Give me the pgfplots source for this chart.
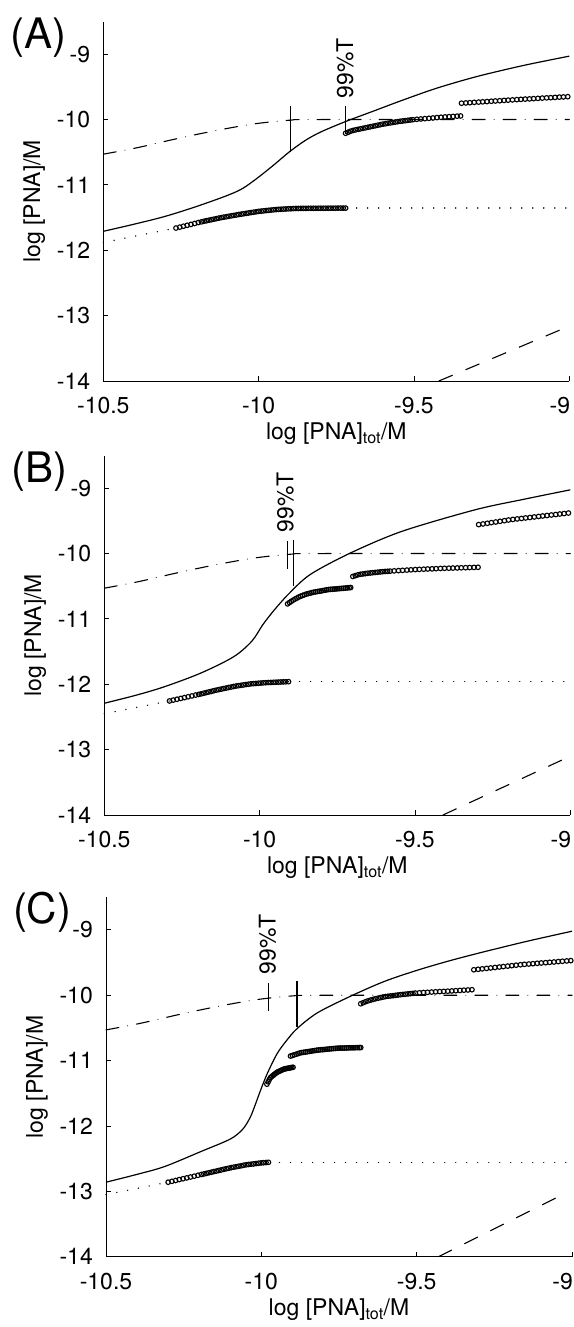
\documentclass[border=0pt]{standalone}
\usepackage{fontspec}
\setmainfont{TeX Gyre Heros}
\usepackage{pgfplots}
\pgfplotsset{compat=1.18}
\newcommand{\lbl}{\fontsize{23}{23}\selectfont}
\newcommand{\plb}{\fontsize{42}{42}\selectfont}
\pgfplotsset{
  panel/.style={
    scale only axis, width=466pt, height=359.5pt,
    xmin=-10.5, xmax=-9, ymin=-14, ymax=-8.5,
    axis x line*=bottom, axis y line*=left,
    xtick={-10.5,-10,-9.5}, ytick={-14,-13,-12,-11,-10,-9},
    extra x ticks={-9},
    extra x tick style={xticklabel style={anchor=north east, xshift=1pt}},
    tick align=inside, major tick length=5pt,
    axis line style={line width=1pt},
    tick style={line width=0.9pt, black},
    /pgf/number format/assume math mode=true,
    ticklabel style={font=\lbl},
    xticklabel style={inner sep=0pt, anchor=north, yshift=-16pt},
    yticklabel style={inner sep=0pt, anchor=east, xshift=-13pt},
    xlabel={\lbl log [PNA]\textsubscript{tot}/M},
    ylabel={\lbl log [PNA]/M},
    xlabel style={at={(axis description cs:0.5,-0.164)}, anchor=base, inner sep=0pt},
    ylabel style={at={(axis description cs:-0.1356,0.5)}, anchor=base, inner sep=0pt},
    clip=false,
  },
  solidc/.style={black, line width=1.2pt, smooth, tension=0.5, no marks},
  dotc/.style={black, line width=1.5pt, dash pattern=on 0.01pt off 11pt, line cap=round, no marks},
  dashdotc/.style={black, line width=1.1pt, dash pattern=on 13pt off 9pt on 0.01pt off 9pt, line cap=round, smooth, no marks},
  dashc/.style={black, line width=1.1pt, dash pattern=on 15pt off 14pt, no marks},
  circ/.style={black, only marks, mark=o, mark size=2.3pt, mark options={line width=1.1pt}},
  vline/.style={black, line width=1.3pt, no marks},
}
\tikzset{
  plabel/.style={anchor=base west, inner sep=0pt},
  tlabel/.style={rotate=90, anchor=west, inner sep=0pt},
}
\begin{document}
\begin{tikzpicture}
\useasboundingbox (0pt,0pt) rectangle (573pt,-1327pt);

% ---------------- Panel A ----------------
\begin{axis}[panel, at={(103.3pt,-381pt)}, anchor=south west]
\addplot[dashdotc] coordinates {(-10.5,-10.53) (-10.39,-10.43) (-10.27,-10.30) (-10.15,-10.18) (-10.02,-10.07) (-9.9,-10.01) (-9.8,-10.0) (-9.0,-10.0)};
\addplot[dashc] coordinates {(-9.42,-14) (-9.0,-13.16)};
\addplot[dotc] coordinates {(-10.5,-11.88) (-10.266,-11.66)};
\addplot[dotc] coordinates {(-9.72,-11.355) (-9.0,-11.355)};
\addplot[solidc] coordinates {(-10.5,-11.71) (-10.4,-11.60) (-10.3,-11.48) (-10.2,-11.33) (-10.1,-11.16) (-10.05,-11.05) (-10.0,-10.88) (-9.95,-10.69) (-9.9,-10.49) (-9.85,-10.32) (-9.8,-10.19) (-9.72,-10.03) (-9.63,-9.87) (-9.546,-9.72) (-9.43,-9.525) (-9.3,-9.345) (-9.15,-9.175) (-9.0,-9.03)};
\addplot[circ] coordinates {
(-10.266,-11.660) (-10.254,-11.646) (-10.242,-11.632) (-10.230,-11.618) (-10.218,-11.604) (-10.206,-11.590) (-10.194,-11.576) (-10.184,-11.565)
(-10.176,-11.556) (-10.168,-11.548) (-10.160,-11.540) (-10.152,-11.532) (-10.144,-11.524) (-10.136,-11.516) (-10.128,-11.508) (-10.120,-11.500)
(-10.112,-11.493) (-10.104,-11.487) (-10.096,-11.480) (-10.088,-11.473) (-10.080,-11.467) (-10.072,-11.460) (-10.064,-11.453) (-10.056,-11.447)
(-10.048,-11.441) (-10.040,-11.435) (-10.032,-11.429) (-10.024,-11.423) (-10.016,-11.417) (-10.008,-11.411) (-10.000,-11.405) (-9.992,-11.401)
(-9.984,-11.397) (-9.976,-11.393) (-9.968,-11.389) (-9.960,-11.385) (-9.952,-11.381) (-9.944,-11.377) (-9.936,-11.374) (-9.928,-11.372)
(-9.920,-11.370) (-9.912,-11.368) (-9.904,-11.366) (-9.896,-11.364) (-9.888,-11.362) (-9.880,-11.360) (-9.872,-11.360) (-9.864,-11.359)
(-9.856,-11.359) (-9.848,-11.359) (-9.840,-11.358) (-9.832,-11.358) (-9.824,-11.358) (-9.816,-11.358) (-9.808,-11.357) (-9.800,-11.357)
(-9.792,-11.357) (-9.784,-11.357) (-9.776,-11.356) (-9.768,-11.356) (-9.760,-11.356) (-9.752,-11.356) (-9.744,-11.355) (-9.736,-11.355)
(-9.728,-11.355) (-9.720,-11.355)};
\addplot[circ] coordinates {
(-9.720,-10.210) (-9.712,-10.194) (-9.704,-10.178) (-9.696,-10.166) (-9.688,-10.158) (-9.680,-10.150) (-9.672,-10.142) (-9.664,-10.134)
(-9.656,-10.126) (-9.648,-10.118) (-9.640,-10.110) (-9.632,-10.102) (-9.624,-10.094) (-9.616,-10.086) (-9.608,-10.078) (-9.600,-10.070)
(-9.592,-10.064) (-9.584,-10.057) (-9.576,-10.051) (-9.568,-10.044) (-9.560,-10.038) (-9.552,-10.032) (-9.544,-10.026) (-9.536,-10.022)
(-9.528,-10.017) (-9.520,-10.012) (-9.512,-10.007) (-9.504,-10.002) (-9.491,-9.996) (-9.478,-9.991) (-9.465,-9.986) (-9.452,-9.981)
(-9.439,-9.976) (-9.426,-9.970) (-9.413,-9.965) (-9.400,-9.960) (-9.387,-9.956) (-9.374,-9.952) (-9.361,-9.948) (-9.350,-9.945)};
\addplot[circ] coordinates {
(-9.347,-9.750) (-9.333,-9.746) (-9.320,-9.742) (-9.306,-9.737) (-9.292,-9.733) (-9.279,-9.729) (-9.265,-9.725) (-9.251,-9.720)
(-9.238,-9.716) (-9.224,-9.712) (-9.210,-9.707) (-9.197,-9.703) (-9.183,-9.699) (-9.169,-9.695) (-9.156,-9.691) (-9.142,-9.687)
(-9.128,-9.684) (-9.115,-9.680) (-9.101,-9.676) (-9.087,-9.672) (-9.073,-9.668) (-9.060,-9.665) (-9.046,-9.661) (-9.032,-9.657)
(-9.019,-9.654) (-9.005,-9.650)};
\addplot[vline] coordinates {(-9.898,-9.795) (-9.898,-10.49)};
\addplot[vline] coordinates {(-9.72,-9.795) (-9.72,-10.22)};
\node[tlabel] at (axis cs:-9.722,-9.68) {\lbl 99\%T};
\node[plabel] at (axis description cs:-0.2,0.926) {\plb (A)};
\end{axis}

% ---------------- Panel B ----------------
\begin{axis}[panel, at={(104.3pt,-815pt)}, anchor=south west]
\addplot[dashdotc] coordinates {(-10.5,-10.53) (-10.39,-10.43) (-10.27,-10.30) (-10.15,-10.18) (-10.02,-10.07) (-9.9,-10.01) (-9.8,-10.0) (-9.0,-10.0)};
\addplot[dashc] coordinates {(-9.41,-14) (-9.0,-13.10)};
\addplot[dotc] coordinates {(-10.5,-12.45) (-10.29,-12.255)};
\addplot[dotc] coordinates {(-9.907,-11.96) (-9.0,-11.96)};
\addplot[solidc] coordinates {(-10.5,-12.29) (-10.4,-12.17) (-10.308,-12.04) (-10.19,-11.83) (-10.084,-11.58) (-10.025,-11.34) (-9.99,-11.09) (-9.954,-10.87) (-9.907,-10.62) (-9.837,-10.32) (-9.707,-9.99) (-9.542,-9.66) (-9.306,-9.33) (-9.15,-9.17) (-9.0,-9.025)};
\addplot[circ] coordinates {
(-10.290,-12.255) (-10.278,-12.242) (-10.266,-12.229) (-10.254,-12.216) (-10.242,-12.204) (-10.230,-12.191) (-10.218,-12.178) (-10.206,-12.165)
(-10.196,-12.155) (-10.188,-12.146) (-10.180,-12.137) (-10.172,-12.127) (-10.164,-12.118) (-10.156,-12.109) (-10.148,-12.099) (-10.140,-12.090)
(-10.132,-12.082) (-10.124,-12.074) (-10.116,-12.066) (-10.108,-12.058) (-10.100,-12.050) (-10.092,-12.042) (-10.084,-12.034) (-10.076,-12.027)
(-10.068,-12.021) (-10.060,-12.016) (-10.052,-12.010) (-10.044,-12.004) (-10.036,-11.999) (-10.028,-11.993) (-10.020,-11.990) (-10.012,-11.987)
(-10.004,-11.984) (-9.996,-11.981) (-9.988,-11.978) (-9.980,-11.975) (-9.972,-11.973) (-9.964,-11.972) (-9.956,-11.970) (-9.948,-11.968)
(-9.940,-11.967) (-9.932,-11.965) (-9.924,-11.963) (-9.916,-11.962) (-9.907,-11.960)};
\addplot[circ] coordinates {
(-9.910,-10.770) (-9.904,-10.750) (-9.898,-10.730) (-9.892,-10.712) (-9.886,-10.696) (-9.880,-10.681) (-9.874,-10.665) (-9.868,-10.653)
(-9.862,-10.642) (-9.856,-10.631) (-9.850,-10.620) (-9.844,-10.613) (-9.838,-10.606) (-9.832,-10.598) (-9.826,-10.591) (-9.820,-10.586)
(-9.814,-10.581) (-9.808,-10.576) (-9.802,-10.572) (-9.796,-10.566) (-9.790,-10.561) (-9.784,-10.555) (-9.778,-10.550) (-9.772,-10.548)
(-9.766,-10.545) (-9.760,-10.543) (-9.754,-10.541) (-9.748,-10.538) (-9.742,-10.536) (-9.736,-10.533) (-9.730,-10.531) (-9.724,-10.528)
(-9.718,-10.525) (-9.712,-10.522) (-9.707,-10.520)};
\addplot[circ] coordinates {
(-9.700,-10.350) (-9.692,-10.338) (-9.684,-10.326) (-9.676,-10.317) (-9.668,-10.312) (-9.660,-10.307) (-9.652,-10.301) (-9.644,-10.297)
(-9.636,-10.293) (-9.628,-10.289) (-9.620,-10.285) (-9.612,-10.281) (-9.604,-10.277) (-9.596,-10.274) (-9.588,-10.272) (-9.580,-10.269)
(-9.567,-10.265) (-9.553,-10.261) (-9.540,-10.257) (-9.526,-10.253) (-9.513,-10.249) (-9.499,-10.245) (-9.486,-10.242) (-9.472,-10.239)
(-9.459,-10.236) (-9.445,-10.234) (-9.432,-10.231) (-9.418,-10.228) (-9.405,-10.226) (-9.391,-10.224) (-9.378,-10.222) (-9.364,-10.220)
(-9.351,-10.218) (-9.337,-10.216) (-9.324,-10.214) (-9.310,-10.212) (-9.297,-10.210)};
\addplot[circ] coordinates {
(-9.295,-9.557) (-9.281,-9.547) (-9.267,-9.537) (-9.254,-9.527) (-9.240,-9.517) (-9.226,-9.507) (-9.212,-9.497) (-9.199,-9.487)
(-9.185,-9.478) (-9.171,-9.470) (-9.157,-9.463) (-9.144,-9.455) (-9.130,-9.448) (-9.116,-9.440) (-9.102,-9.432) (-9.089,-9.425)
(-9.075,-9.418) (-9.061,-9.410) (-9.047,-9.403) (-9.034,-9.395) (-9.020,-9.388) (-9.006,-9.380)};
\addplot[vline] coordinates {(-9.892,-9.80) (-9.892,-10.50)};
\addplot[vline] coordinates {(-9.910,-9.81) (-9.910,-10.24)};
\node[tlabel] at (axis cs:-9.918,-9.68) {\lbl 99\%T};
\node[plabel] at (axis description cs:-0.2,0.926) {\plb (B)};
\end{axis}

% ---------------- Panel C ----------------
\begin{axis}[panel, at={(106pt,-1256.7pt)}, anchor=south west]
\addplot[dashdotc] coordinates {(-10.5,-10.53) (-10.39,-10.43) (-10.27,-10.30) (-10.15,-10.18) (-10.02,-10.07) (-9.9,-10.01) (-9.8,-10.0) (-9.0,-10.0)};
\addplot[dashc] coordinates {(-9.43,-14) (-9.03,-13.05)};
\addplot[dotc] coordinates {(-10.5,-13.05) (-10.30,-12.86)};
\addplot[dotc] coordinates {(-9.977,-12.555) (-9.0,-12.555)};
\addplot[solidc] coordinates {(-10.5,-12.86) (-10.4,-12.74) (-10.311,-12.62) (-10.194,-12.39) (-10.10,-12.20) (-10.06,-12.05) (-10.036,-11.87) (-10.02,-11.68) (-10.003,-11.46) (-9.982,-11.21) (-9.95,-10.90) (-9.92,-10.70) (-9.885,-10.51) (-9.82,-10.27) (-9.713,-10.015) (-9.605,-9.79) (-9.50,-9.62) (-9.40,-9.48) (-9.30,-9.355) (-9.15,-9.18) (-9.0,-9.02)};
\addplot[circ] coordinates {
(-10.300,-12.860) (-10.288,-12.847) (-10.276,-12.834) (-10.264,-12.820) (-10.252,-12.807) (-10.240,-12.794) (-10.228,-12.781) (-10.216,-12.768)
(-10.204,-12.754) (-10.193,-12.742) (-10.185,-12.734) (-10.177,-12.725) (-10.169,-12.716) (-10.161,-12.707) (-10.153,-12.698) (-10.145,-12.690)
(-10.137,-12.681) (-10.129,-12.672) (-10.121,-12.663) (-10.113,-12.654) (-10.105,-12.646) (-10.097,-12.637) (-10.089,-12.630) (-10.081,-12.623)
(-10.073,-12.616) (-10.065,-12.609) (-10.057,-12.601) (-10.049,-12.594) (-10.041,-12.589) (-10.033,-12.584) (-10.025,-12.580) (-10.017,-12.575)
(-10.009,-12.570) (-10.001,-12.565) (-9.993,-12.562) (-9.985,-12.559) (-9.977,-12.556)};
\addplot[circ] coordinates {
(-9.982,-11.360) (-9.978,-11.324) (-9.974,-11.287) (-9.970,-11.256) (-9.966,-11.241) (-9.962,-11.226) (-9.958,-11.210) (-9.954,-11.195)
(-9.950,-11.180) (-9.946,-11.171) (-9.942,-11.162) (-9.938,-11.153) (-9.934,-11.144) (-9.930,-11.135) (-9.926,-11.128) (-9.922,-11.124)
(-9.918,-11.120) (-9.914,-11.116) (-9.910,-11.113) (-9.906,-11.109) (-9.902,-11.105) (-9.898,-11.102)};
\addplot[circ] coordinates {
(-9.906,-10.930) (-9.900,-10.921) (-9.894,-10.911) (-9.888,-10.902) (-9.882,-10.893) (-9.876,-10.883) (-9.870,-10.877) (-9.864,-10.873)
(-9.858,-10.868) (-9.852,-10.864) (-9.846,-10.859) (-9.840,-10.855) (-9.834,-10.850) (-9.828,-10.846) (-9.822,-10.841) (-9.816,-10.838)
(-9.810,-10.835) (-9.804,-10.832) (-9.798,-10.830) (-9.792,-10.827) (-9.786,-10.824) (-9.780,-10.821) (-9.774,-10.818) (-9.768,-10.816)
(-9.762,-10.813) (-9.756,-10.810) (-9.750,-10.809) (-9.744,-10.808) (-9.738,-10.808) (-9.732,-10.807) (-9.726,-10.806) (-9.720,-10.805)
(-9.714,-10.804) (-9.708,-10.804) (-9.702,-10.803) (-9.696,-10.802) (-9.690,-10.801) (-9.684,-10.801) (-9.680,-10.800)};
\addplot[circ] coordinates {
(-9.680,-10.130) (-9.672,-10.114) (-9.664,-10.098) (-9.656,-10.085) (-9.648,-10.074) (-9.640,-10.063) (-9.632,-10.053) (-9.624,-10.044)
(-9.616,-10.036) (-9.608,-10.028) (-9.600,-10.020) (-9.592,-10.015) (-9.584,-10.010) (-9.576,-10.006) (-9.568,-10.001) (-9.560,-9.996)
(-9.552,-9.991) (-9.544,-9.987) (-9.536,-9.983) (-9.528,-9.979) (-9.520,-9.975) (-9.512,-9.971) (-9.504,-9.967) (-9.491,-9.962)
(-9.478,-9.958) (-9.465,-9.955) (-9.452,-9.951) (-9.439,-9.947) (-9.426,-9.944) (-9.413,-9.941) (-9.400,-9.938) (-9.387,-9.934)
(-9.374,-9.930) (-9.361,-9.926) (-9.348,-9.922) (-9.335,-9.919) (-9.322,-9.915)};
\addplot[circ] coordinates {
(-9.316,-9.610) (-9.302,-9.603) (-9.289,-9.596) (-9.275,-9.589) (-9.262,-9.582) (-9.248,-9.575) (-9.234,-9.568) (-9.221,-9.561)
(-9.207,-9.554) (-9.194,-9.547) (-9.180,-9.540) (-9.166,-9.533) (-9.153,-9.527) (-9.139,-9.522) (-9.126,-9.517) (-9.112,-9.511)
(-9.099,-9.506) (-9.085,-9.501) (-9.072,-9.496) (-9.058,-9.491) (-9.044,-9.485) (-9.031,-9.480) (-9.017,-9.475) (-9.004,-9.470)};
\addplot[vline] coordinates {(-9.885,-9.78) (-9.885,-10.49)};
\addplot[vline] coordinates {(-9.977,-9.81) (-9.977,-10.24)};
\node[tlabel] at (axis cs:-9.98,-9.68) {\lbl 99\%T};
\node[plabel] at (axis description cs:-0.2,0.926) {\plb (C)};
\end{axis}
\end{tikzpicture}
\end{document}
